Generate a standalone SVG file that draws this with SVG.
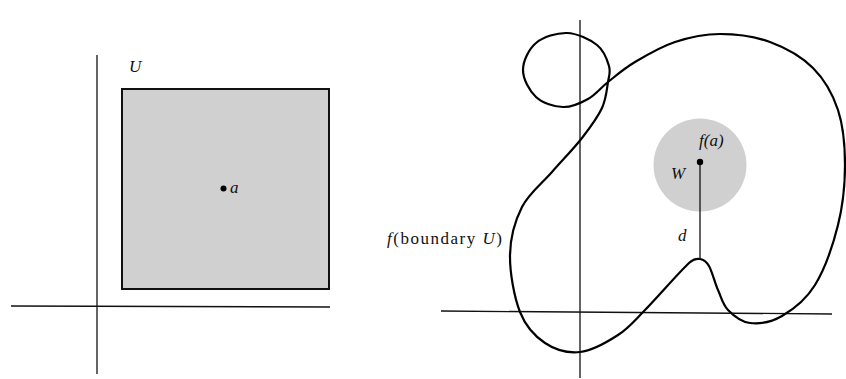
<svg xmlns="http://www.w3.org/2000/svg" width="846" height="379" viewBox="0 0 846 379">
<style>
.ax{stroke:#111;stroke-width:1.3;fill:none}
.cv{stroke:#000;stroke-width:2.2;fill:none;stroke-linejoin:round}
.sh{fill:#d0d0d0}
.lb{font-family:"Liberation Serif",serif;font-style:italic;font-size:17px;fill:#111}
.rm{font-family:"Liberation Serif",serif;font-size:17px;fill:#111}
.dot{fill:#000}
</style>
<rect width="846" height="379" fill="#fff"/>
<g id="left-axes">
<line class="ax" x1="11" y1="306" x2="330" y2="307"/>
<line class="ax" x1="97" y1="55" x2="97" y2="374"/>
</g>
<g id="U">
<rect class="sh" x="122" y="89" width="207" height="200" stroke="#111" stroke-width="2"/>
<text class="lb" x="129" y="72">U</text>
</g>
<g id="a">
<circle class="dot" cx="223.5" cy="188.5" r="3"/>
<text class="lb" x="230" y="193">a</text>
</g>
<g id="right-axes">
<line class="ax" x1="441" y1="311" x2="832" y2="314"/>
<line class="ax" x1="580" y1="20" x2="580" y2="378"/>
</g>
<g id="W">
<circle class="sh" cx="700" cy="165" r="46.5"/>
<text class="lb" x="671" y="179">W</text>
</g>
<g id="boundary">
<path class="cv" d="M845,165 C845,184.2 843,205 838,225 C833,245 824.3,269.8 815,285 C805.7,300.2 792.8,309.7 782,316 C771.2,322.3 759,324 750,323 C741,322 733.3,315.5 728,310 C722.7,304.5 721.2,297.3 718,290 C714.8,282.7 712,271.2 709,266 C706,260.8 703.3,259.5 700,259 C696.7,258.5 692.5,259.8 689,263 C679.8,271.5 656.8,298 645,310 C633.2,322 628.8,328 618,335 C607.2,342 592.2,350.7 580,352 C567.8,353.3 555,349.7 545,343 C535,336.3 525.8,326.7 520,312 C514.2,297.3 509.7,272.5 510,255 C510.3,237.5 515,220.8 522,207 C529,193.2 542,183.5 552,172 C562,160.5 573.7,148.7 582,138 C590.3,127.3 597.7,117.3 602,108 C606.3,98.7 606.8,89 608,82 C609.2,75 610.8,72.2 609,66 C607.2,59.8 604,50.5 597,45 C590,39.5 577.2,33.3 567,33 C556.8,32.7 543.3,36.8 536,43 C528.7,49.2 523,61 523,70 C523,79 529.3,90.8 536,97 C542.7,103.2 554.3,106.7 563,107 C571.7,107.3 580.5,103.2 588,99 C595.5,94.8 600.2,88.2 608,82 C615.8,75.8 623.8,68.7 635,62 C646.2,55.3 660.8,46.7 675,42 C689.2,37.3 704.2,34 720,34 C735.8,34 754.5,36.3 770,42 C785.5,47.7 801.7,56.7 813,68 C824.3,79.3 832.7,93.8 838,110 C843.3,126.2 845,145.8 845,165 Z"/>
<text class="rm" x="387" y="244" textLength="115" lengthAdjust="spacing"><tspan font-style="italic">f</tspan>(boundary <tspan font-style="italic">U</tspan>)</text>
</g>
<g id="connectors">
<line x1="700" y1="162" x2="700" y2="259" stroke="#111" stroke-width="1.3"/>
<text class="lb" x="678" y="241">d</text>
</g>
<g id="fa">
<circle class="dot" cx="700" cy="162" r="3.2"/>
<text class="lb" x="699" y="146">f(a)</text>
</g>
</svg>
